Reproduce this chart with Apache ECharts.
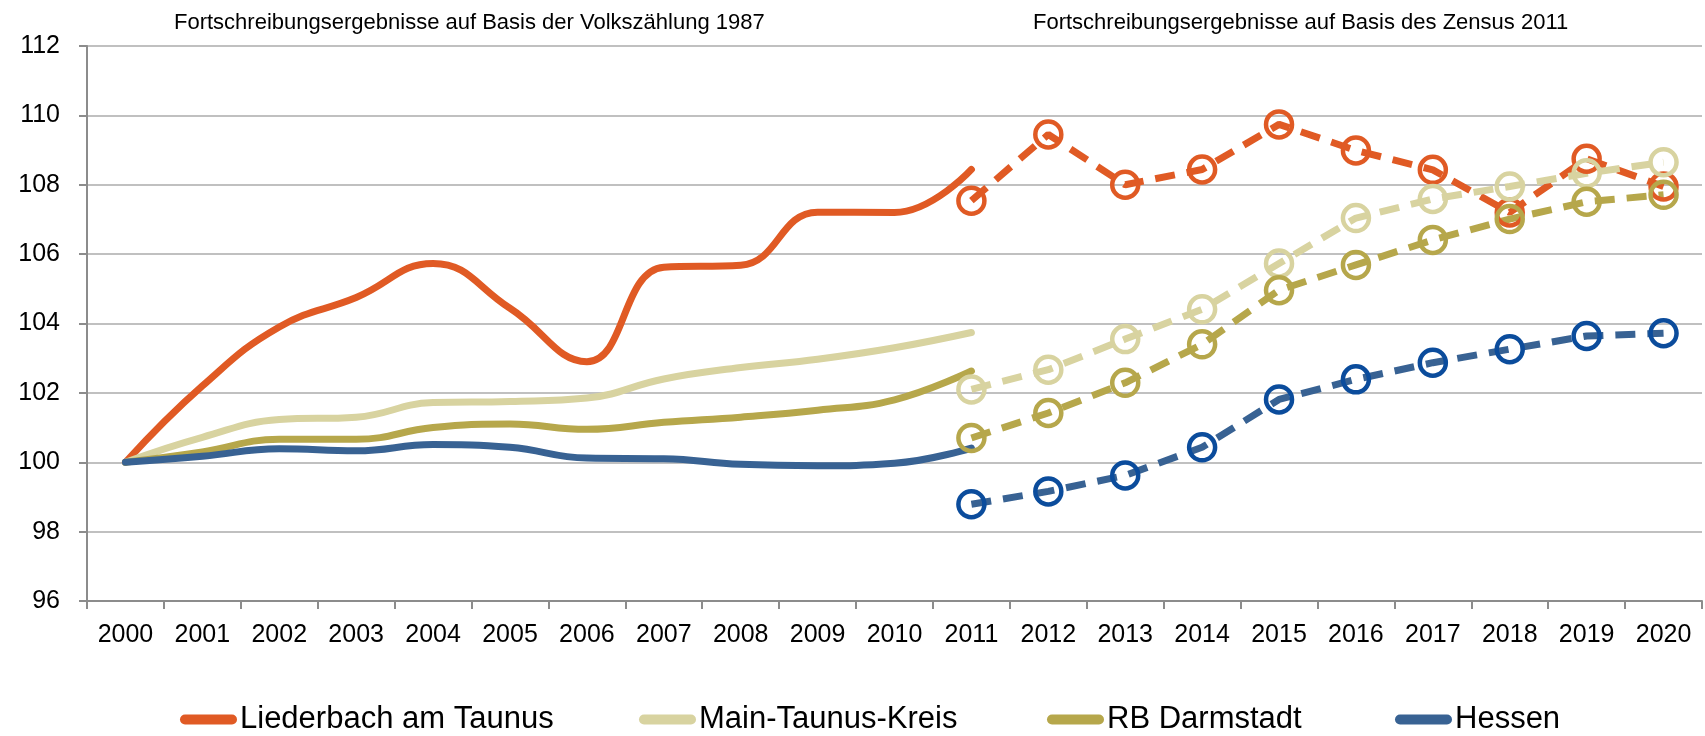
<!DOCTYPE html>
<html>
<head>
<meta charset="utf-8">
<script src="https://cdn.jsdelivr.net/npm/echarts@6/dist/echarts.min.js"></script>
<style>
html,body{margin:0;padding:0;background:#fff;}
#chart{width:1705px;height:736px;}
</style>
</head>
<body>
<div id="chart"></div>
<script>
const years = ['2000','2001','2002','2003','2004','2005','2006','2007','2008','2009','2010','2011','2012','2013','2014','2015','2016','2017','2018','2019','2020'];
const seriesNames = ['Liederbach am Taunus','Main-Taunus-Kreis','RB Darmstadt','Hessen'];
const title1987 = 'Fortschreibungsergebnisse auf Basis der Volkszählung 1987';
const title2011 = 'Fortschreibungsergebnisse auf Basis des Zensus 2011';
// 2000-2011 (Volkszählung 1987)
const liederbach1987 = [100, 102.2, 103.9, 104.75, 105.73, 104.44, 102.9, 105.62, 105.68, 107.21, 107.2, 108.44];
const mtk1987        = [100, 100.72, 101.23, 101.3, 101.72, 101.75, 101.85, 102.4, 102.73, 102.97, 103.3, 103.74];
const rb1987         = [100, 100.3, 100.66, 100.66, 101.0, 101.1, 100.95, 101.15, 101.3, 101.5, 101.8, 102.63];
const hessen1987     = [100, 100.17, 100.39, 100.33, 100.51, 100.43, 100.12, 100.1, 99.94, 99.9, 99.97, 100.41];
// 2011-2020 (Zensus 2011)
const liederbach2011 = [107.54, 109.45, 108.0, 108.44, 109.74, 108.99, 108.43, 107.2, 108.75, 107.95];
const mtk2011        = [102.1, 102.67, 103.55, 104.41, 105.73, 107.04, 107.59, 107.95, 108.33, 108.65];
const rb2011         = [100.7, 101.42, 102.29, 103.4, 104.96, 105.69, 106.41, 107.01, 107.51, 107.71];
const hessen2011     = [98.79, 99.16, 99.62, 100.43, 101.81, 102.39, 102.87, 103.26, 103.64, 103.72];

const lineColors = ['#E05A24', '#D8D3A0', '#B6A74B', '#386293'];
const markerColors = ['#E05A24', '#D8D3A0', '#B6A74B', '#0B4C9C'];
const legendLeft = [175, 634, 1042, 1390];
const FONT = '"Liberation Sans Narrow", "Arial Narrow", "Liberation Sans", Arial, sans-serif';

function padBefore(arr){ return arr.concat(new Array(years.length - arr.length).fill(null)); }
function padAfter(arr){ return new Array(years.length - arr.length).fill(null).concat(arr); }

const oldData = [liederbach1987, mtk1987, rb1987, hessen1987];
const newData = [liederbach2011, mtk2011, rb2011, hessen2011];

const series = [];
for (let i = 0; i < 4; i++) {
  series.push({
    name: seriesNames[i],
    type: 'line',
    data: padBefore(oldData[i]),
    smooth: 0.45,
    showSymbol: false,
    symbol: 'none',
    connectNulls: false,
    lineStyle: { color: lineColors[i], width: 7, cap: 'round', join: 'round' },
    itemStyle: { color: lineColors[i] },
    z: 2
  });
}
for (let i = 0; i < 4; i++) {
  series.push({
    name: seriesNames[i] + ' (Zensus 2011)',
    type: 'line',
    data: padAfter(newData[i]),
    smooth: false,
    symbol: 'circle',
    symbolSize: 26,
    showSymbol: true,
    lineStyle: { color: lineColors[i], width: 7, type: [20, 12] },
    itemStyle: { color: 'rgba(255,255,255,0)', borderColor: markerColors[i], borderWidth: 4.5 },
    z: 3
  });
}

const legends = seriesNames.map((n, i) => ({
  data: [{ name: n, itemStyle: { color: lineColors[i] } }],
  left: legendLeft[i],
  top: 699,
  icon: 'path://M5,0 L52,0 A5,5 0 0 1 52,10 L5,10 A5,5 0 0 1 5,0 Z',
  itemWidth: 57,
  itemHeight: 10,
  textStyle: { fontFamily: FONT, fontSize: 31, color: '#000', padding: [0, 0, 0, -2] }
}));

const chart = echarts.init(document.getElementById('chart'), null, { renderer: 'canvas' });
chart.setOption({
  animation: false,
  backgroundColor: '#ffffff',
  grid: { left: 87, right: 3, top: 46, bottom: 135, containLabel: false },
  graphic: [
    { type: 'text', left: 174, top: 12, style: { text: title1987, font: '22px ' + FONT, fill: '#000' } },
    { type: 'text', left: 1033, top: 12, style: { text: title2011, font: '22px ' + FONT, fill: '#000' } }
  ],
  legend: legends,
  xAxis: {
    type: 'category',
    data: years,
    boundaryGap: true,
    axisLine: { lineStyle: { color: '#8c8c8c', width: 2 } },
    axisTick: { show: true, interval: 0, length: 8, lineStyle: { color: '#8c8c8c', width: 2 } },
    axisLabel: { interval: 0, margin: 22, fontFamily: FONT, fontSize: 25, color: '#000' },
    splitLine: { show: false }
  },
  yAxis: {
    type: 'value',
    min: 96, max: 112, interval: 2,
    axisLine: { show: true, lineStyle: { color: '#8c8c8c', width: 2 } },
    axisTick: { show: true, length: 8, lineStyle: { color: '#8c8c8c', width: 2 } },
    axisLabel: { margin: 27, fontFamily: FONT, fontSize: 25, color: '#000' },
    splitLine: { show: true, lineStyle: { color: '#ababab', width: 1.5 } }
  },
  series: series
});
</script>
</body>
</html>
